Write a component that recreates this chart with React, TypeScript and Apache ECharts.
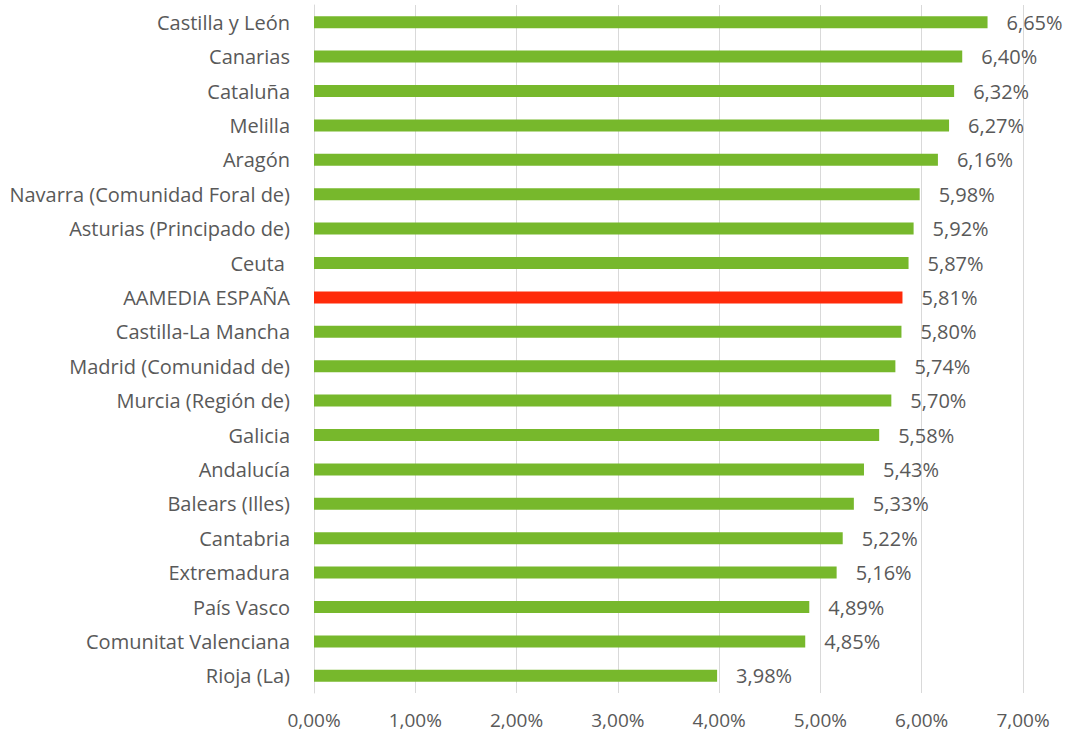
import React, { useEffect, useRef } from "react";
import * as echarts from "echarts";

const categories = [
  "Castilla y León",
  "Canarias",
  "Cataluña",
  "Melilla",
  "Aragón",
  "Navarra (Comunidad Foral de)",
  "Asturias (Principado de)",
  "Ceuta ",
  "AAMEDIA ESPAÑA",
  "Castilla-La Mancha",
  "Madrid (Comunidad de)",
  "Murcia (Región de)",
  "Galicia",
  "Andalucía",
  "Balears (Illes)",
  "Cantabria",
  "Extremadura",
  "País Vasco",
  "Comunitat Valenciana",
  "Rioja (La)",
];

const values = [
  6.65, 6.4, 6.32, 6.27, 6.16, 5.98, 5.92, 5.87, 5.81, 5.8, 5.74, 5.7, 5.58,
  5.43, 5.33, 5.22, 5.16, 4.89, 4.85, 3.98,
];

const highlight = "AAMEDIA ESPAÑA";

const fmt = (v: number) => v.toFixed(2).replace(".", ",") + "%";

export default function App() {
  const ref = useRef<HTMLDivElement>(null);
  useEffect(() => {
    if (!ref.current) return;
    const chart = echarts.init(ref.current, null, { renderer: "svg" });
    const font = "'Open Sans', 'Noto Sans', sans-serif";
    chart.setOption({
      animation: false,
      grid: { left: 314, right: 42, top: 5, bottom: 40, containLabel: false },
      xAxis: {
        type: "value",
        min: 0,
        max: 7,
        interval: 1,
        axisLine: { show: false },
        axisTick: { show: false },
        splitLine: { show: true, lineStyle: { color: "#d9d9d9", width: 1 } },
        axisLabel: {
          formatter: (v: number) => fmt(v),
          color: "#595959",
          fontSize: 19,
          lineHeight: 19,
          fontFamily: font,
          margin: 17,
        },
      },
      yAxis: {
        type: "category",
        inverse: true,
        data: categories,
        axisLine: { show: true, lineStyle: { color: "#d9d9d9", width: 1 } },
        axisTick: { show: false },
        axisLabel: {
          color: "#595959",
          fontSize: 20,
          fontFamily: font,
          margin: 24,
        },
      },
      series: [
        {
          type: "bar",
          barWidth: 12,
          data: categories.map((c, i) => ({
            value: values[i],
            itemStyle: { color: c === highlight ? "#ff2a0a" : "#77b82c" },
          })),
          label: {
            show: true,
            position: "right",
            distance: 19,
            formatter: (p: any) => fmt(p.value),
            color: "#595959",
            fontSize: 20,
            fontFamily: font,
          },
        },
      ],
    });
    return () => chart.dispose();
  }, []);
  return (
    <div
      ref={ref}
      style={{ position: "fixed", left: 0, top: 0, width: 1065, height: 733, background: "#fff" }}
    />
  );
}
